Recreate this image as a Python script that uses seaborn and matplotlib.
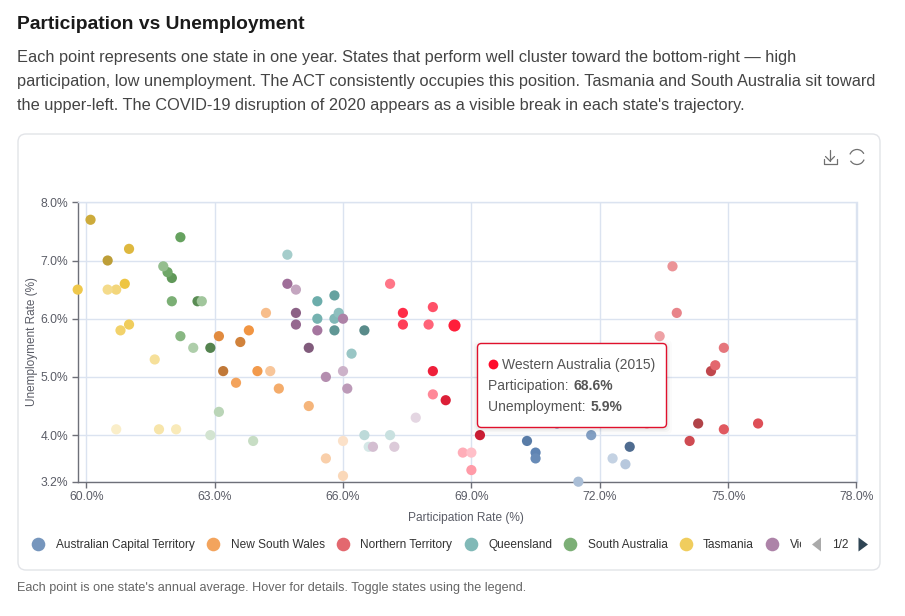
import matplotlib
matplotlib.use("Agg")
import matplotlib.pyplot as plt
from matplotlib.patches import FancyBboxPatch, Rectangle, Polygon, Arc
from matplotlib.colors import to_rgb
import numpy as np
import pandas as pd
import seaborn as sns

# Annual averages per state: year, participation rate, unemployment rate
act_year = [2012, 2014, 2015, 2016, 2017, 2018, 2021, 2022, 2023]
act_part = [72.7, 70.3, 70.5, 70.5, 71.0, 71.8, 71.5, 72.6, 72.3]
act_unemp = [3.8, 3.9, 3.7, 3.6, 4.2, 4.0, 3.2, 3.5, 3.6]

nsw_year = [2012, 2013, 2014, 2015, 2016, 2017, 2018, 2019, 2020, 2021, 2022, 2023, 2024]
nsw_part = [63.2, 63.6, 63.1, 63.8, 64.0, 63.5, 64.5, 65.2, 64.2, 64.3, 65.6, 66.0, 66.0]
nsw_unemp = [5.1, 5.6, 5.7, 5.8, 5.1, 4.9, 4.8, 4.5, 6.1, 5.1, 3.6, 3.3, 3.9]

nt_year = [2012, 2013, 2014, 2015, 2016, 2017, 2018, 2019, 2020, 2021, 2022]
nt_part = [74.3, 74.6, 74.1, 75.7, 74.9, 74.7, 74.9, 73.8, 73.7, 73.4, 73.1]
nt_unemp = [4.2, 5.1, 3.9, 4.2, 4.1, 5.2, 5.5, 6.1, 6.9, 5.7, 4.2]

qld_year = [2012, 2013, 2014, 2015, 2016, 2017, 2018, 2019, 2020, 2022, 2023, 2024]
qld_part = [66.5, 65.8, 65.8, 65.4, 65.4, 65.8, 65.9, 66.2, 64.7, 66.5, 67.1, 66.6]
qld_unemp = [5.8, 5.8, 6.4, 6.3, 6.0, 6.0, 6.1, 5.4, 7.1, 4.0, 4.0, 3.8]

sa_year = [2012, 2013, 2014, 2015, 2016, 2017, 2018, 2019, 2020, 2021, 2022, 2023, 2024]
sa_part = [62.9, 62.6, 62.0, 62.2, 61.9, 62.0, 62.2, 61.8, 62.7, 62.5, 63.1, 63.9, 62.9]
sa_unemp = [5.5, 6.3, 6.7, 7.4, 6.8, 6.3, 5.7, 6.9, 6.3, 5.5, 4.4, 3.9, 4.0]

tas_year = [2012, 2013, 2014, 2015, 2016, 2017, 2018, 2019, 2020, 2021, 2022, 2023, 2024]
tas_part = [60.5, 60.1, 61.0, 60.9, 59.8, 61.0, 60.8, 60.7, 60.5, 61.6, 61.7, 62.1, 60.7]
tas_unemp = [7.0, 7.7, 7.2, 6.6, 6.5, 5.9, 5.8, 6.5, 6.5, 5.3, 4.1, 4.1, 4.1]

vic_year = [2012, 2013, 2014, 2015, 2016, 2017, 2018, 2019, 2020, 2021, 2022, 2023, 2024]
vic_part = [65.2, 64.9, 64.9, 64.7, 65.4, 66.0, 65.6, 66.1, 64.9, 66.0, 66.7, 67.2, 67.7]
vic_unemp = [5.5, 6.1, 5.9, 6.6, 5.8, 6.0, 5.0, 4.8, 6.5, 5.1, 3.8, 3.8, 4.3]

wa_year = [2012, 2013, 2014, 2015, 2016, 2017, 2018, 2019, 2020, 2021, 2022, 2023, 2024]
wa_part = [69.2, 68.4, 68.1, 68.6, 67.4, 67.4, 68.1, 68.0, 67.1, 68.1, 69.0, 68.8, 69.0]
wa_unemp = [4.0, 4.6, 5.1, 5.9, 6.1, 5.9, 6.2, 5.9, 6.6, 4.7, 3.4, 3.7, 3.7]

state_names = ["Australian Capital Territory", "New South Wales", "Northern Territory",
               "Queensland", "South Australia", "Tasmania", "Victoria", "Western Australia"]
state_colors = ["#4f78ab", "#f08a2f", "#db3e46", "#5ea5a3", "#57994f", "#ecbf2f", "#96608f", "#ff0a2a"]
state_years = [act_year, nsw_year, nt_year, qld_year, sa_year, tas_year, vic_year, wa_year]
state_part = [act_part, nsw_part, nt_part, qld_part, sa_part, tas_part, vic_part, wa_part]
state_unemp = [act_unemp, nsw_unemp, nt_unemp, qld_unemp, sa_unemp, tas_unemp, vic_unemp, wa_unemp]

x_ticks = [60, 63, 66, 69, 72, 75, 78]
y_ticks = [3.2, 4, 5, 6, 7, 8]

W, H = 905, 616
TEXT = "#333333"
MUTED = "#666666"
AXIS = "#6e7079"
GRID = "#dbe3f0"


def year_shade(hex_color, year):
    """Early years run darker, recent years fade toward white."""
    rgb = np.array(to_rgb(hex_color))
    if year <= 2015:
        shade = rgb * (1 - 0.075 * (2015 - year))
        return tuple(shade + (1 - shade) * 0.09)
    white = 0.14 + 0.075 * (year - 2016)
    return tuple(rgb + (1 - rgb) * white)


rows = []
palette = {}
for name, color, years, part, unemp in zip(state_names, state_colors, state_years, state_part, state_unemp):
    for y, p, u in zip(years, part, unemp):
        key = f"{name} {y}"
        palette[key] = year_shade(color, y)
        rows.append({"state": name, "year": y, "part": p, "unemp": u, "key": key})
df = pd.DataFrame(rows)

sns.set_theme(style="white")
plt.rcParams["font.family"] = ["Liberation Sans", "DejaVu Sans"]

fig = plt.figure(figsize=(W / 100, H / 100), dpi=100, facecolor="white")

# Pixel-coordinate layer for the page furniture
page = fig.add_axes([0, 0, 1, 1], zorder=0)
page.set_xlim(0, W)
page.set_ylim(H, 0)
page.axis("off")

page.text(17, 29, "Participation vs Unemployment", fontsize=13.9, fontweight="bold",
          color="#1a1a1a", va="baseline", ha="left")
description = [
    "Each point represents one state in one year. States that perform well cluster toward the bottom-right \u2014 high",
    "participation, low unemployment. The ACT consistently occupies this position. Tasmania and South Australia sit toward",
    "the upper-left. The COVID-19 disruption of 2020 appears as a visible break in each state's trajectory.",
]
for y, line in zip([62, 86, 110], description):
    page.text(17, y, line, fontsize=11.75, color="#444444", va="baseline", ha="left")
page.text(17, 591, "Each point is one state's annual average. Hover for details. Toggle states using the legend.",
          fontsize=9.1, color=MUTED, va="baseline", ha="left")

page.add_patch(FancyBboxPatch((18, 134), 862, 436, boxstyle="round,pad=0,rounding_size=8",
                              fc="white", ec="#e2e4e8", lw=1))

# Toolbar icons
icon = "#707070"
page.plot([823.5, 823.5, 837, 837], [159, 164, 164, 159], color=icon, lw=0.9)
page.plot([830, 830], [150, 161], color=icon, lw=0.9)
page.plot([825.5, 830, 834.5], [156.5, 161, 156.5], color=icon, lw=0.9)
page.add_patch(Arc((857, 157), 15, 15, theta1=20, theta2=150, color=icon, lw=0.9))
page.add_patch(Arc((857, 157), 15, 15, theta1=200, theta2=335, color=icon, lw=0.9))

# Scatter panel
left, right, top, bottom = 77.7, 856.5, 202.3, 481.7
ax = fig.add_axes([left / W, 1 - bottom / H, (right - left) / W, (bottom - top) / H], zorder=1)
ax.patch.set_alpha(0)

focus = (df["state"] == "Western Australia") & (df["year"] == 2015)
sns.scatterplot(data=df[~focus], x="part", y="unemp", hue="key", palette=palette, s=54,
                linewidth=0, legend=False, clip_on=False, ax=ax, zorder=3)
sns.scatterplot(data=df[focus], x="part", y="unemp", color="#ff1f3a", s=76,
                linewidth=0, legend=False, clip_on=False, ax=ax, zorder=4)

ax.set_xlim(59.8, 78)
ax.set_ylim(3.2, 8)
ax.set_xticks(x_ticks, [f"{t:.1f}%" for t in x_ticks])
ax.set_yticks(y_ticks, [f"{t:.1f}%" for t in y_ticks])
ax.grid(True, color=GRID, lw=1)
ax.set_axisbelow(True)
for side in ("top", "right"):
    ax.spines[side].set_visible(True)
    ax.spines[side].set_color(GRID)
    ax.spines[side].set_linewidth(1)
for side in ("left", "bottom"):
    ax.spines[side].set_color(AXIS)
    ax.spines[side].set_linewidth(1)
ax.tick_params(axis="both", length=4, width=1, color=AXIS, labelcolor="#5a5c66", labelsize=8.7, pad=3,
               bottom=True, left=True)
ax.set_xlabel("")
ax.set_ylabel("")
page.text(466, 518, "Participation Rate (%)", fontsize=8.6, color="#5a5c66", ha="center", va="center")
page.text(32, 341, "Unemployment Rate (%)", fontsize=8.5, color="#5a5c66", ha="center", va="center", rotation=90)

# Legend strip, first page of two; the last visible entry is cut off by the pager
legend_dots = [37.5, 213, 343, 470.5, 570, 686, 772]
legend_labels = [55.5, 231, 360, 488, 588, 703, 790]
clip = Rectangle((0, 530), 801, 30, transform=page.transData)
for name, color, dx, lx in zip(state_names, state_colors, legend_dots, legend_labels):
    rgb = np.array(to_rgb(color))
    page.scatter([dx], [544], s=96, color=[tuple(rgb + (1 - rgb) * 0.22)], linewidth=0)
    label = page.text(lx, 548, name, fontsize=8.6, color=TEXT, va="baseline", ha="left")
    label.set_clip_path(clip)
    label.set_clip_on(True)
page.add_patch(Polygon([[821, 537.5], [821, 551.5], [812, 544.5]], closed=True, fc="#aaaaaa", ec="none"))
page.add_patch(Polygon([[858.5, 537.5], [858.5, 551.5], [868, 544.5]], closed=True, fc="#2f4554", ec="none"))
page.text(840, 548, "1/2", fontsize=8.6, color=TEXT, ha="center", va="baseline")

# Hover card for the highlighted point
card = fig.add_axes([0, 0, 1, 1], zorder=2)
card.set_xlim(0, W)
card.set_ylim(H, 0)
card.axis("off")
for grow, alpha in [(5, 0.015), (3, 0.025), (1.5, 0.04)]:
    card.add_patch(FancyBboxPatch((477 - grow, 344 - grow + 1), 190 + 2 * grow, 84 + 2 * grow,
                                  boxstyle="round,pad=0,rounding_size=5", fc="black", ec="none", alpha=alpha))
card.add_patch(FancyBboxPatch((477.5, 343.5), 189, 84, boxstyle="round,pad=0,rounding_size=4",
                              fc="white", ec="#e0102c", lw=1))
card.scatter([493], [364], s=50, color="#ff0a2a", linewidth=0)
tip = "#555555"
card.text(502, 369, "Western Australia (2015)", fontsize=10, color=tip, va="baseline", ha="left")
renderer = fig.canvas.get_renderer()
for y, head, value in [(390, "Participation: ", "68.6%"), (411, "Unemployment: ", "5.9%")]:
    t = card.text(488, y, head, fontsize=10, color=tip, va="baseline", ha="left")
    end = t.get_window_extent(renderer).x1
    card.text(end + 1.5, y, value, fontsize=10, color=tip, fontweight="bold", va="baseline", ha="left")

fig.savefig("out.png", dpi=100)
